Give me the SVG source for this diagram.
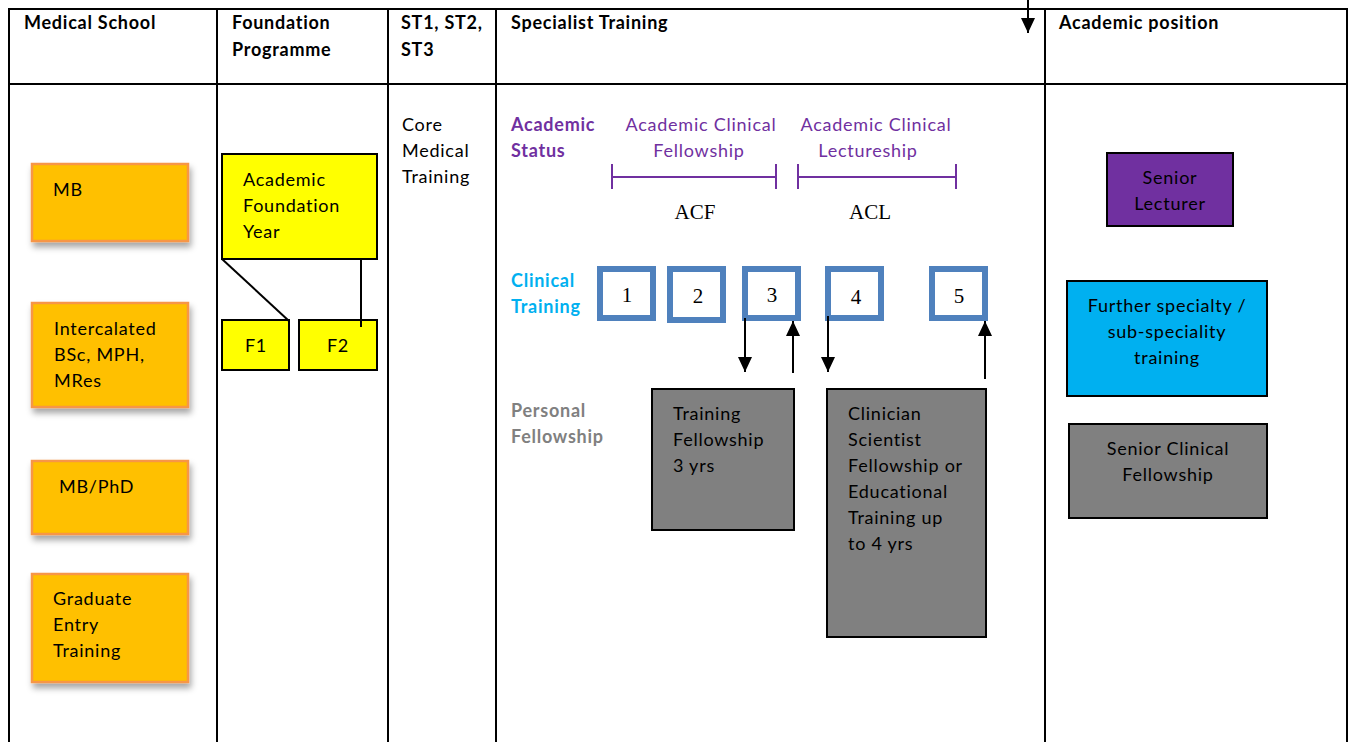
<svg xmlns="http://www.w3.org/2000/svg" width="1352" height="742" viewBox="0 0 1352 742">
<style>
text{font-family:Lato,"Open Sans","Liberation Sans",sans-serif;font-size:18px;letter-spacing:0.75px;fill:#000}
.hd{font-weight:bold;font-size:18px}
.grid{stroke:#000;stroke-width:2;fill:none}
.org{fill:#FFC000;stroke:#F79646;stroke-width:2.5}
.yel{fill:#FFFF00;stroke:#000;stroke-width:2}
.blu{fill:#fff;stroke:#4F81BD;stroke-width:6}
.gry{fill:#808080;stroke:#000;stroke-width:2}
.tm{font-family:"Liberation Serif",serif;font-size:21px;letter-spacing:0}
.ln{stroke:#000;stroke-width:2;fill:none}
.br{stroke:#7030A0;stroke-width:2;fill:none}
.mid{text-anchor:middle}
</style>
<defs>
<marker id="ah2" viewBox="0 0 10 10" refX="10" refY="5" markerWidth="15" markerHeight="14" markerUnits="userSpaceOnUse" orient="auto" preserveAspectRatio="none">
<path d="M0,0 L10,5 L0,10 z" fill="#000"/>
</marker>
<filter id="sh" x="-10%" y="-10%" width="130%" height="140%">
<feDropShadow dx="2" dy="5" stdDeviation="3" flood-color="#000" flood-opacity="0.35"/>
</filter>
</defs>
<rect width="1352" height="742" fill="#fff"/>
<g id="table">
<path class="grid" d="M9,744 V9 H1347 V744 M9,84 H1347 M217,9 V744 M388,9 V744 M496,9 V744 M1045,9 V744"/>
<text class="hd" x="24" y="29">Medical School</text>
<text class="hd" x="232" y="29">Foundation</text>
<text class="hd" x="232" y="56">Programme</text>
<text class="hd" x="401" y="29">ST1, ST2,</text>
<text class="hd" x="401" y="56">ST3</text>
<text class="hd" x="511" y="29">Specialist Training</text>
<text class="hd" x="1059" y="29">Academic position</text>
</g>
<g id="core-medical"><text x="402" y="131">Core</text><text x="402" y="157">Medical</text><text x="402" y="183">Training</text></g>
<g id="mb"><rect class="org" x="32" y="164" width="156" height="77" filter="url(#sh)"/><text x="53" y="196">MB</text></g>
<g id="intercalated"><rect class="org" x="32" y="303" width="156" height="104" filter="url(#sh)"/><text x="54" y="335">Intercalated</text><text x="54" y="361">BSc, MPH,</text><text x="54" y="387">MRes</text></g>
<g id="mbphd"><rect class="org" x="32" y="461" width="156" height="73" filter="url(#sh)"/><text x="59" y="493">MB/PhD</text></g>
<g id="graduate"><rect class="org" x="32" y="574" width="156" height="108" filter="url(#sh)"/><text x="53" y="605">Graduate</text><text x="53" y="631">Entry</text><text x="53" y="657">Training</text></g>
<g id="afy"><rect class="yel" x="222" y="154" width="155" height="105"/><text x="243" y="186">Academic</text><text x="243" y="212">Foundation</text><text x="243" y="238">Year</text></g>
<g id="f1"><rect class="yel" x="222" y="320" width="67" height="50"/><text class="mid" x="256" y="352">F1</text></g>
<g id="f2"><rect class="yel" x="299" y="320" width="78" height="50"/><text class="mid" x="338" y="352">F2</text></g>
<g id="academic-status">
<text x="511" y="131" style="font-weight:bold;fill:#7030A0">Academic</text>
<text x="511" y="157" style="font-weight:bold;fill:#7030A0">Status</text>
<text class="mid" x="701" y="131" style="fill:#7030A0">Academic Clinical</text>
<text class="mid" x="699" y="157" style="fill:#7030A0">Fellowship</text>
<text class="mid" x="876" y="131" style="fill:#7030A0">Academic Clinical</text>
<text class="mid" x="868" y="157" style="fill:#7030A0">Lectureship</text>
<path class="br" d="M612,164 V189 M612,177 H776 M776,164 V189 M798,164 V189 M798,177 H956 M956,164 V189"/>
<text class="tm mid" x="695" y="219">ACF</text>
<text class="tm mid" x="870" y="219">ACL</text>
</g>
<g id="clinical-training">
<text x="511" y="287" style="font-weight:bold;fill:#00B0F0">Clinical</text>
<text x="511" y="313" style="font-weight:bold;fill:#00B0F0">Training</text>
</g>
<g id="ct1"><rect class="blu" x="600" y="269" width="53" height="49"/><text class="tm mid" x="627" y="302">1</text></g>
<g id="ct2"><rect class="blu" x="670" y="269" width="53" height="51"/><text class="tm mid" x="698" y="303">2</text></g>
<g id="ct3"><rect class="blu" x="745" y="269" width="53" height="49"/><text class="tm mid" x="772" y="302">3</text></g>
<g id="ct4"><rect class="blu" x="828" y="269" width="53" height="49"/><text class="tm mid" x="856" y="304">4</text></g>
<g id="ct5"><rect class="blu" x="932" y="269" width="53" height="49"/><text class="tm mid" x="959" y="303">5</text></g>
<g id="personal-fellowship">
<text x="511" y="417" style="font-weight:bold;fill:#808080">Personal</text>
<text x="511" y="443" style="font-weight:bold;fill:#808080">Fellowship</text>
</g>
<g id="training-fellowship"><rect class="gry" x="652" y="389" width="142" height="141"/><text x="673" y="420">Training</text><text x="673" y="446">Fellowship</text><text x="673" y="472">3 yrs</text></g>
<g id="clinician-scientist"><rect class="gry" x="827" y="389" width="159" height="248"/><text x="848" y="420">Clinician</text><text x="848" y="446">Scientist</text><text x="848" y="472">Fellowship or</text><text x="848" y="498">Educational</text><text x="848" y="524">Training up</text><text x="848" y="550">to 4 yrs</text></g>
<g id="senior-lecturer"><rect x="1107" y="153" width="126" height="73" fill="#7030A0" stroke="#000" stroke-width="2"/><text class="mid" x="1170" y="184">Senior</text><text class="mid" x="1170" y="210">Lecturer</text></g>
<g id="further-specialty"><rect x="1067" y="281" width="200" height="115" fill="#00B0F0" stroke="#000" stroke-width="2"/><text class="mid" x="1167" y="312">Further specialty /</text><text class="mid" x="1167" y="338">sub-speciality</text><text class="mid" x="1167" y="364">training</text></g>
<g id="senior-clinical"><rect class="gry" x="1069" y="424" width="198" height="94"/><text class="mid" x="1168" y="455">Senior Clinical</text><text class="mid" x="1168" y="481">Fellowship</text></g>
<g id="connectors">
<path class="ln" d="M222,259 L289,321"/>
<path class="ln" d="M361,258 V327"/>
<path class="ln" d="M745,318 V372" marker-end="url(#ah2)"/>
<path class="ln" d="M793,373 V321" marker-end="url(#ah2)"/>
<path class="ln" d="M828,316 V372" marker-end="url(#ah2)"/>
<path class="ln" d="M985,379 V321" marker-end="url(#ah2)"/>
<path class="ln" d="M1028,0 V33" marker-end="url(#ah2)"/>
</g>
</svg>
